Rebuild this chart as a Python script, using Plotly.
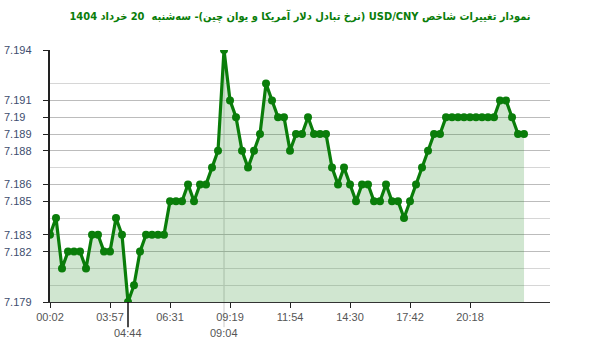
import plotly.graph_objects as go
import numpy as np

values = [7.183, 7.184, 7.181, 7.182, 7.182, 7.182, 7.181, 7.183, 7.183, 7.182,
          7.182, 7.184, 7.183, 7.179, 7.180, 7.182, 7.183, 7.183, 7.183, 7.183,
          7.185, 7.185, 7.185, 7.186, 7.185, 7.186, 7.186, 7.187, 7.188, 7.194,
          7.191, 7.190, 7.188, 7.187, 7.188, 7.189, 7.192, 7.191, 7.190, 7.190,
          7.188, 7.189, 7.189, 7.190, 7.189, 7.189, 7.189, 7.187, 7.186, 7.187,
          7.186, 7.185, 7.186, 7.186, 7.185, 7.185, 7.186, 7.185, 7.185, 7.184,
          7.185, 7.186, 7.187, 7.188, 7.189, 7.189, 7.190, 7.190, 7.190, 7.190,
          7.190, 7.190, 7.190, 7.190, 7.190, 7.191, 7.191, 7.190, 7.189, 7.189]
x_idx = list(range(len(values)))

tick_positions = [0, 10, 20, 30, 40, 50, 60, 70]
tick_labels = ["00:02", "03:57", "06:31", "09:19", "11:54", "14:30", "17:42", "20:18"]
min_time = "04:44"
max_time = "09:04"

y_labeled = [7.179, 7.182, 7.183, 7.185, 7.186, 7.188, 7.189, 7.19, 7.191, 7.194]
y_label_text = ["7.179", "7.182", "7.183", "7.185", "7.186", "7.188", "7.189", "7.19", "7.191", "7.194"]
y_unlabeled = [7.180, 7.181, 7.184, 7.187, 7.192]

title = "نمودار تغییرات شاخص USD/CNY (نرخ تبادل دلار آمریکا و یوان چین)- سه‌شنبه  20 خرداد 1404"

green = "#0a7d0a"
idx_min = int(np.argmin(values))
idx_max = int(np.argmax(values))

fig = go.Figure()
fig.add_trace(go.Scatter(
    x=x_idx, y=values, mode="lines+markers",
    line=dict(color=green, width=3.2),
    marker=dict(color=green, size=8),
    fill="tozeroy", fillcolor="rgba(40,140,40,0.22)",
    hoverinfo="skip",
))

fig.update_layout(
    width=600, height=352,
    margin=dict(l=50, r=50, t=50, b=50),
    paper_bgcolor="white", plot_bgcolor="white",
    showlegend=False,
    font=dict(family="Arial", size=11, color="#444"),
    title=dict(text="\u202b" + title + "\u202c", x=0.5, xanchor="center", y=0.955, yanchor="middle",
               font=dict(family="DejaVu Sans Condensed, DejaVu Sans", size=11, color=green, weight="bold")),
    xaxis=dict(
        range=[0, 83.33], tickvals=tick_positions, ticktext=tick_labels,
        showgrid=False, zeroline=False,
        showline=True, linecolor="#333", linewidth=1,
        ticks="outside", ticklen=5, tickcolor="#222",
        tickfont=dict(family="Arial", size=11, color="#555"),
    ),
    yaxis=dict(
        range=[7.179, 7.194], tickvals=y_labeled, showticklabels=False,
        showgrid=True, gridcolor="#bcbcbc", gridwidth=1, zeroline=False,
        showline=True, linecolor="#222", linewidth=1.5,
        ticks="outside", ticklen=5, tickcolor="#222",
        minor=dict(tickvals=y_unlabeled, showgrid=True, gridcolor="#d6d6d6", ticks=""),
    ),
)

for v, t in zip(y_labeled, y_label_text):
    fig.add_annotation(x=0, xref="paper", y=v, yref="y", text=t, showarrow=False,
                       xanchor="left", xshift=-48, yanchor="middle",
                       font=dict(family="Arial", size=11, color="#3d4d6e"))

# min marker line and label
fig.add_shape(type="line", xref="x", yref="paper", x0=idx_min, x1=idx_min, y0=0, y1=-0.1,
              line=dict(color="#111", width=1.5))
fig.add_annotation(x=idx_min, xref="x", y=-0.093, yref="paper", text=min_time, showarrow=False,
                   yanchor="top", font=dict(family="Arial", size=11, color="#555"))
# max marker line and label
fig.add_shape(type="line", xref="x", yref="paper", x0=idx_max, x1=idx_max, y0=1, y1=-0.1,
              line=dict(color="#cccccc", width=1), layer="below")
fig.add_annotation(x=idx_max, xref="x", y=-0.093, yref="paper", text=max_time, showarrow=False,
                   yanchor="top", font=dict(family="Arial", size=11, color="#555"))

fig.write_html("out.html")
